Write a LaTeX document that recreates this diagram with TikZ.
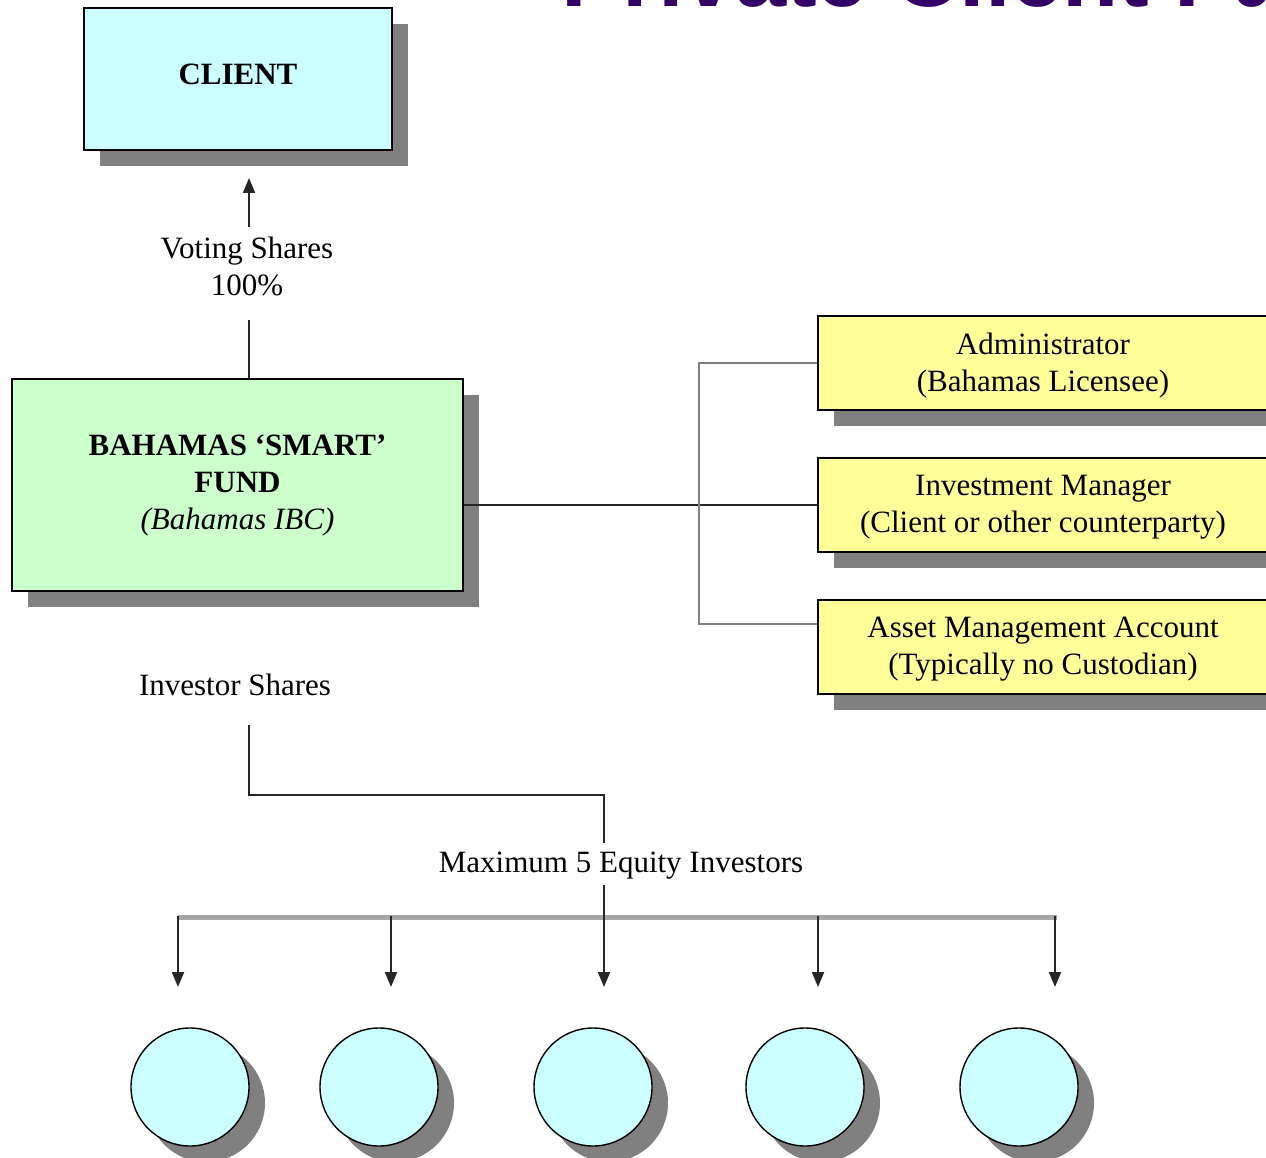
\documentclass[tikz,border=0pt]{standalone}
\usepackage{fontspec}
\setmainfont{Liberation Serif}
\newfontfamily\titlefont{Liberation Sans}
\usetikzlibrary{arrows.meta,shadows}
\definecolor{clientc}{HTML}{CCFFFF}
\definecolor{fundc}{HTML}{CCFFCC}
\definecolor{yel}{HTML}{FFFF99}
\definecolor{shad}{HTML}{808080}
\definecolor{titlec}{HTML}{330066}
\definecolor{graybar}{HTML}{A6A6A6}
\begin{document}
\begin{tikzpicture}[x=1pt,y=-1pt,
  txt/.style={inner sep=0pt,align=center,font=\fontsize{31}{37}\selectfont},
  box/.style={txt,draw=black,line width=2.2pt,
    drop shadow={shadow xshift=16pt,shadow yshift=-16pt,fill=shad,opacity=1}},
  inv/.style={circle,draw=black,line width=1.4pt,fill=clientc,minimum size=118pt,inner sep=0pt,
    drop shadow={shadow xshift=16pt,shadow yshift=-16pt,fill=shad,opacity=1}},
  conn/.style={draw=black!85,line width=2pt},
  bracket/.style={draw=shad,line width=2pt},
  bar/.style={draw=graybar,line width=5pt},
  arr/.style={-{Triangle[length=15pt,width=12pt]}}]
\useasboundingbox (0,0) rectangle (1266,1158);
\clip (0,0) rectangle (1266,1158);

% title (cut off at the top)
\node[anchor=base west,inner sep=0pt,text=titlec,
  font=\titlefont\bfseries\fontsize{92}{92}\selectfont] (title) at (561,7) {Private Client Fund};

% boxes
\node[box,fill=clientc,minimum width=308pt,minimum height=142pt,text depth=10pt] (client) at (238,79) {\bfseries CLIENT};
\node[box,fill=fundc,minimum width=451pt,minimum height=212pt] (fund) at (237.5,485)
  {{\bfseries BAHAMAS ‘SMART’}\\{\bfseries FUND}\\{\itshape (Bahamas IBC)}};
\node[box,fill=yel,minimum width=450pt,minimum height=94pt,text depth=2pt] (admin) at (1043,363)
  {Administrator\\(Bahamas Licensee)};
\node[box,fill=yel,minimum width=450pt,minimum height=94pt,text depth=2pt] (invest) at (1043,505)
  {Investment Manager\\(Client or other counterparty)};
\node[box,fill=yel,minimum width=450pt,minimum height=94pt,text depth=2pt] (asset) at (1043,647)
  {Asset Management Account\\(Typically no Custodian)};

% voting shares
\node[txt] (voting) at (247,266) {Voting Shares\\100\%};
\coordinate (vt) at (249,320);
\coordinate (va) at (249,227);
\coordinate (vtip) at (249,178);
\draw[conn] (fund.north -| vt) -- (vt);
\draw[conn,arr] (va) -- (vtip);

% fund to service providers
\draw[conn] (fund.east |- invest.west) -- (invest.west);
\coordinate (bb) at (699,624);
\draw[bracket] (admin.west) -| (bb) -- (bb -| asset.west);

% investor shares
\node[txt] (invsh) at (235,685) {Investor Shares};
\coordinate (i1) at (249,725);
\coordinate (i2) at (604,795);
\coordinate (m1) at (604,843);
\draw[conn] (i1) |- (i2) -- (m1);
\node[txt] (maxinv) at (621,866) {Maximum 5 Equity Investors};
\coordinate (m2) at (604,885);

% distribution bar
\coordinate (b1) at (178,917);
\coordinate (b5) at (1057,917);
\draw[bar] (b1) -- (b5);
\foreach \i/\x in {1/178,2/391,4/818,5/1055}{
  \coordinate (s\i) at (\x,916);
  \coordinate (t\i) at (\x,987);
  \draw[conn,arr] (s\i) -- (t\i);
}
\coordinate (t3) at (604,987);
\draw[conn,arr] (m2) -- (t3);

% investors
\node[inv] (c1) at (190,1087) {};
\node[inv] (c2) at (379,1087) {};
\node[inv] (c3) at (593,1087) {};
\node[inv] (c4) at (805,1087) {};
\node[inv] (c5) at (1019,1087) {};
\end{tikzpicture}
\end{document}
